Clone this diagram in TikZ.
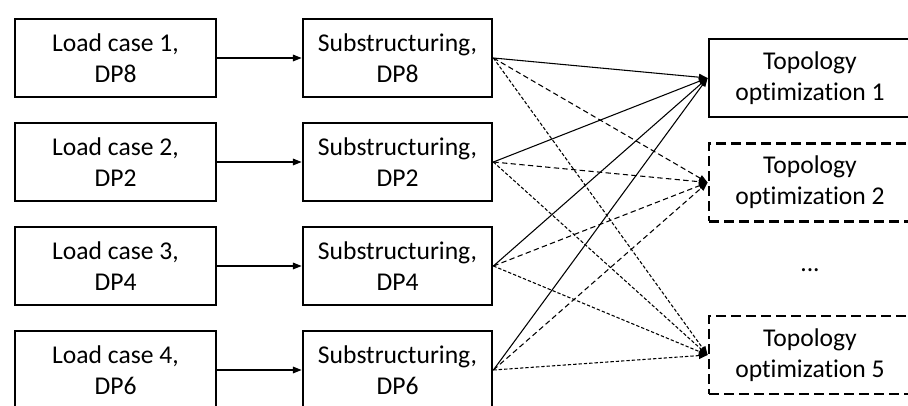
\documentclass[tikz,border=0pt]{standalone}
\usepackage{fontspec}
\setmainfont[Ligatures=NoCommon]{Carlito}
\usetikzlibrary{arrows.meta}
\begin{document}
\begin{tikzpicture}[x=0.75pt,y=-0.75pt,
  box/.style={draw, line width=2.1pt, minimum height=58.5pt, align=center,
    inner sep=0pt, font=\fontsize{19.2}{23.5}\selectfont},
  lcbox/.style={box, minimum width=150.75pt},
  subbox/.style={box, minimum width=141.75pt},
  topobox/.style={box, minimum width=151.5pt},
  optbox/.style={topobox, dash pattern=on 7.5pt off 3.75pt},
  link/.style={line width=0.8pt, -{Triangle[length=6.5pt,width=5pt]}},
  linkA/.style={link, dash pattern=on 4pt off 2.5pt},
  linkB/.style={link, dash pattern=on 2.5pt off 1.5pt}]
\useasboundingbox (0,0) rectangle (908,406);
\begin{scope}
\clip (0,0) rectangle (908,406);
% load cases
\node[lcbox] (l1) at (115.5,58) {Load case 1,\\DP8};
\node[lcbox] (l2) at (115.5,162) {Load case 2,\\DP2};
\node[lcbox] (l3) at (115.5,266) {Load case 3,\\DP4};
\node[lcbox] (l4) at (115.5,370) {Load case 4,\\DP6};
% substructuring
\node[subbox] (s1) at (397.5,58) {Substructuring,\\DP8};
\node[subbox] (s2) at (397.5,162) {Substructuring,\\DP2};
\node[subbox] (s3) at (397.5,266) {Substructuring,\\DP4};
\node[subbox] (s4) at (397.5,370) {Substructuring,\\DP6};
% topology optimizations
\node[topobox] (t1) at (810,78) {Topology\\optimization 1};
\node[optbox] (t2) at (810,182.5) {Topology\\optimization 2};
\node[optbox] (t5) at (810,355) {Topology\\optimization 5};
\node[font=\fontsize{19.2}{23.5}\selectfont] (dots) at (810,270) {...};
% connectors
\foreach \i in {1,2,3,4} {
  \draw[link] (l\i.east) -- (s\i.west);
  \draw[link] (s\i.east) -- (t1.west);
  \draw[linkA] (s\i.east) -- (t2.west);
  \draw[linkB] (s\i.east) -- (t5.west);
}
\end{scope}
\end{tikzpicture}
\end{document}
